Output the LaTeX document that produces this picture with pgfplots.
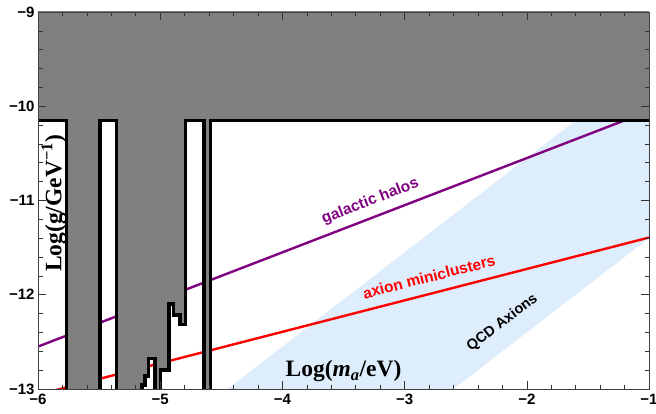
\documentclass[border=0pt]{standalone}
\usepackage{fontspec}
\setmainfont{Liberation Serif}
\setsansfont{Liberation Sans}
\usepackage{pgfplots}
\pgfplotsset{compat=1.18}

\definecolor{halo}{rgb}{0.5,0,0.5}
\definecolor{qcdblue}{rgb}{0.87,0.93,0.99}
\definecolor{excl}{gray}{0.5}

\begin{document}
\begin{tikzpicture}
\begin{axis}[
  scale only axis,
  width=611bp, height=377bp,
  xmin=-6, xmax=-1, ymin=-13, ymax=-9,
  xtick={-6,-5,-4,-3,-2,-1},
  xticklabels={−6,−5,−4,−3,−2,−1},
  ytick={-13,-12,-11,-10,-9},
  yticklabels={−13,−12,−11,−10,−9},
  minor x tick num=4, minor y tick num=4,
  major tick length=8bp, minor tick length=4.5bp,
  tick style={black!80, line width=0.6bp},
  axis line style={black!75, line width=0.8bp},
  tick label style={font=\fontsize{15bp}{17bp}\selectfont\sffamily\bfseries},
  xticklabel style={yshift=-2bp},
  axis on top,
  clip=true,
]
% QCD axion band
\addplot[fill=qcdblue, draw=none] coordinates {
  (-4.45,-13) (-2.60,-13) (-1,-11.40) (-1,-9.55)} -- cycle;

% galactic halos
\addplot[halo, line width=2.4bp] coordinates {(-6,-12.55) (-1,-10.05)};
% axion miniclusters
\addplot[red, line width=2.4bp] coordinates {(-6,-13.06) (-1,-11.393)};

% excluded region
\addplot[fill=excl, draw=none] coordinates {
  (-6.1,-8.9) (-6.1,-10.15) (-5.765,-10.15) (-5.765,-13.1)
  (-5.493,-13.1) (-5.493,-10.15) (-5.356,-10.15) (-5.356,-13.1)
  (-5.147,-13.1) (-5.147,-12.958) (-5.124,-12.958) (-5.124,-12.862)
  (-5.097,-12.862) (-5.097,-12.674) (-5.043,-12.674) (-5.043,-13.1)
  (-4.996,-13.1) (-4.996,-12.798) (-4.926,-12.798) (-4.926,-12.098)
  (-4.893,-12.098) (-4.893,-12.215) (-4.838,-12.215) (-4.838,-12.314)
  (-4.793,-12.314) (-4.793,-10.15) (-4.640,-10.15) (-4.640,-13.1)
  (-4.587,-13.1) (-4.587,-10.15) (-0.9,-10.15) (-0.9,-8.9)} -- cycle;

% its black outline
\addplot[black, line width=3.5bp] coordinates {
  (-6.1,-10.15) (-5.765,-10.15) (-5.765,-13.1)};
\addplot[black, line width=3.5bp] coordinates {
  (-5.493,-13.1) (-5.493,-10.15) (-5.356,-10.15) (-5.356,-13.1)};
\addplot[black, line width=3.5bp] coordinates {
  (-5.147,-13.1) (-5.147,-12.958) (-5.124,-12.958) (-5.124,-12.862)
  (-5.097,-12.862) (-5.097,-12.674) (-5.043,-12.674) (-5.043,-13.1)};
\addplot[black, line width=3.5bp] coordinates {
  (-4.996,-13.1) (-4.996,-12.798) (-4.926,-12.798) (-4.926,-12.098)
  (-4.893,-12.098) (-4.893,-12.215) (-4.838,-12.215) (-4.838,-12.314)
  (-4.793,-12.314) (-4.793,-10.15) (-4.640,-10.15) (-4.640,-13.1)};
\addplot[black, line width=3.5bp] coordinates {
  (-4.587,-13.1) (-4.587,-10.15) (-0.9,-10.15)};

% labels
\node[halo, rotate=21.1, font=\fontsize{15.5bp}{17bp}\selectfont\sffamily\bfseries]
  at (axis cs:-3.28,-11.01) {galactic halos};
\node[red, rotate=14.4, font=\fontsize{15.5bp}{17bp}\selectfont\sffamily\bfseries]
  at (axis cs:-2.80,-11.81) {axion miniclusters};
\node[black, rotate=37.6, font=\fontsize{14.5bp}{16bp}\selectfont\sffamily\bfseries]
  at (axis cs:-2.20,-12.30) {QCD Axions};
\node[font=\fontsize{23.5bp}{26bp}\selectfont\rmfamily\bfseries]
  at (axis cs:-3.50,-12.81) {Log(\textit{m}\textsubscript{\textit{a}}/eV)};
\node[rotate=90, font=\fontsize{23.5bp}{26bp}\selectfont\rmfamily\bfseries]
  at (axis cs:-5.869,-11.03) {Log(g/GeV\textsuperscript{−1})};
\end{axis}
\pgfresetboundingbox
\path ([shift={(-38bp,-25bp)}]current axis.south west)
  rectangle ([shift={(7bp,12bp)}]current axis.north east);
\end{tikzpicture}
\end{document}
